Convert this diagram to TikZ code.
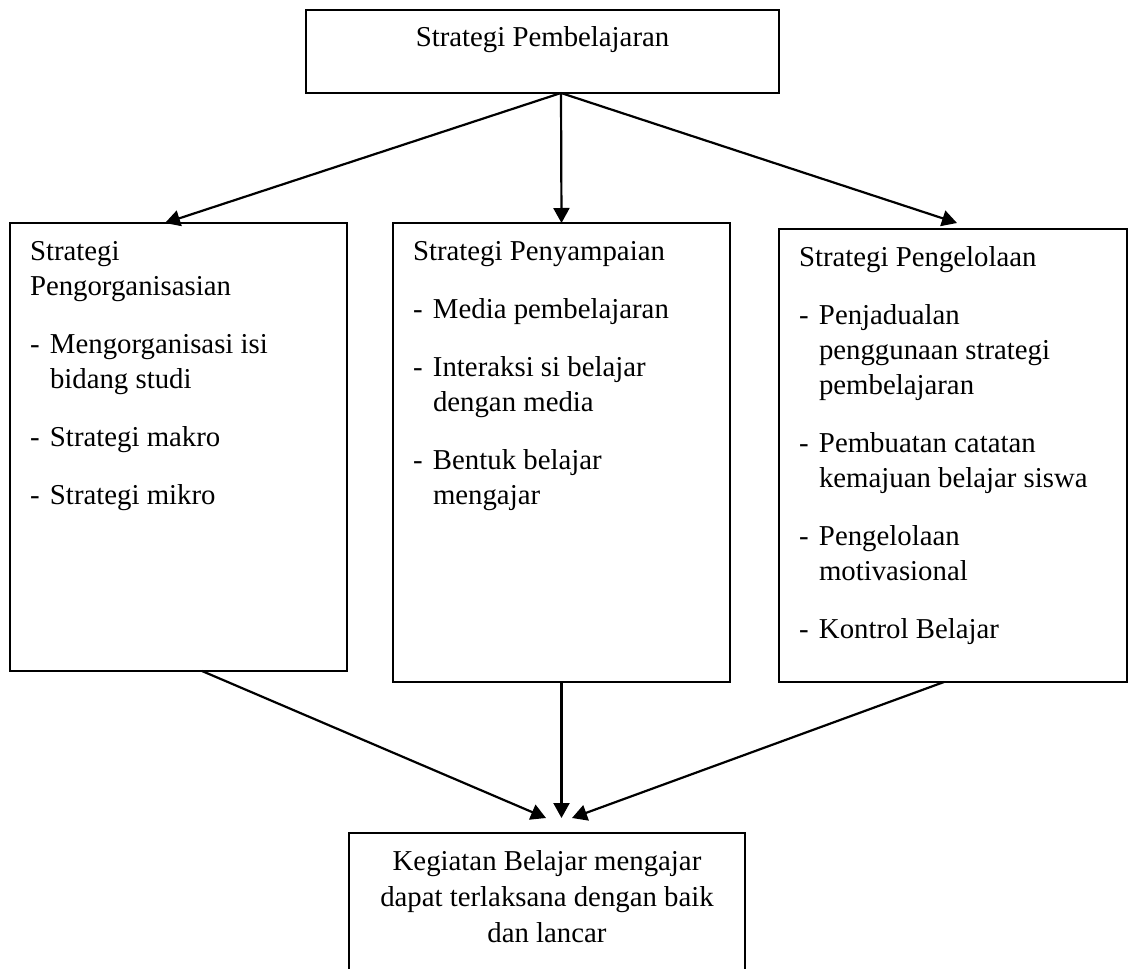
\documentclass[tikz,border=0pt]{standalone}
\usepackage{fontspec}
\setmainfont{Liberation Serif}
\usepackage{tikz}
\usetikzlibrary{arrows.meta, positioning, calc}
\definecolor{flowcolor0}{HTML}{FFFFFF}
\definecolor{flowcolor1}{HTML}{000000}
\newcommand{\flowtext}[3]{\parbox[t][#1][t]{#2}{\fontsize{14.4}{17.5}\selectfont\raggedright\setlength{\parskip}{11.5pt}\strut #3}}
\newcommand{\flowcenter}[4]{\parbox[t][#1][t]{#2}{\fontsize{14.4}{#3}\selectfont\centering\strut #4}}
\newcommand{\flowitem}[1]{\par\hangindent=10pt\hangafter=1\noindent\makebox[10pt][l]{-}#1}
\tikzset{
  box_block/.style={draw=flowcolor1, fill=flowcolor0, line width=1pt, anchor=north west, inner xsep=10pt, inner ysep=6.25pt, outer sep=0pt},
  edge_arrow/.style={color=flowcolor1, line width=1.1pt, -{Triangle[length=7.5pt, width=8pt]}}
}

\begin{document}
\begin{tikzpicture}[x=0.5pt, y=-0.5pt]
\useasboundingbox (0,0) rectangle (1130,969);
\clip (0,0) rectangle (1130,969);
\node[box_block] (root_node) at (306,10) {\flowcenter{29pt}{216.5pt}{17.5pt}{Strategi Pembelajaran}};
\node[box_block] (org_block) at (10,223) {\flowtext{211.5pt}{148.5pt}{Strategi\newline Pengorganisasian
\flowitem{Mengorganisasi isi\newline bidang studi}
\flowitem{Strategi makro}
\flowitem{Strategi mikro}}};
\node[box_block] (deliv_block) at (393,223) {\flowtext{217pt}{148.5pt}{Strategi Penyampaian
\flowitem{Media pembelajaran}
\flowitem{Interaksi si belajar\newline dengan media}
\flowitem{Bentuk belajar\newline mengajar}}};
\node[box_block] (manage_block) at (779,229) {\flowtext{214pt}{154pt}{Strategi Pengelolaan
\flowitem{Penjadualan\newline penggunaan strategi\newline pembelajaran}
\flowitem{Pembuatan catatan\newline kemajuan belajar siswa}
\flowitem{Pengelolaan\newline motivasional}
\flowitem{Kontrol Belajar}}};
\node[box_block] (result_block) at (349,833) {\flowcenter{71pt}{178pt}{18pt}{Kegiatan Belajar mengajar\\dapat terlaksana dengan baik\\dan lancar}};
\coordinate (root_out) at ([xshift=9.25pt]root_node.south);
\draw[edge_arrow] (root_out) -- ([xshift=-6.75pt]org_block.north);
\draw[edge_arrow] (root_out) -- (deliv_block.north);
\draw[edge_arrow] (root_out) -- ([xshift=2pt, yshift=3pt]manage_block.north);
\draw[edge_arrow] ([xshift=11.75pt]org_block.south) -- ([xshift=-0.5pt, yshift=7.5pt]result_block.north);
\draw[edge_arrow] (deliv_block.south) -- ([xshift=7.25pt, yshift=7.5pt]result_block.north);
\draw[edge_arrow] ([xshift=-4.5pt]manage_block.south) -- ([xshift=12.5pt, yshift=7.5pt]result_block.north);
\end{tikzpicture}
\end{document}
